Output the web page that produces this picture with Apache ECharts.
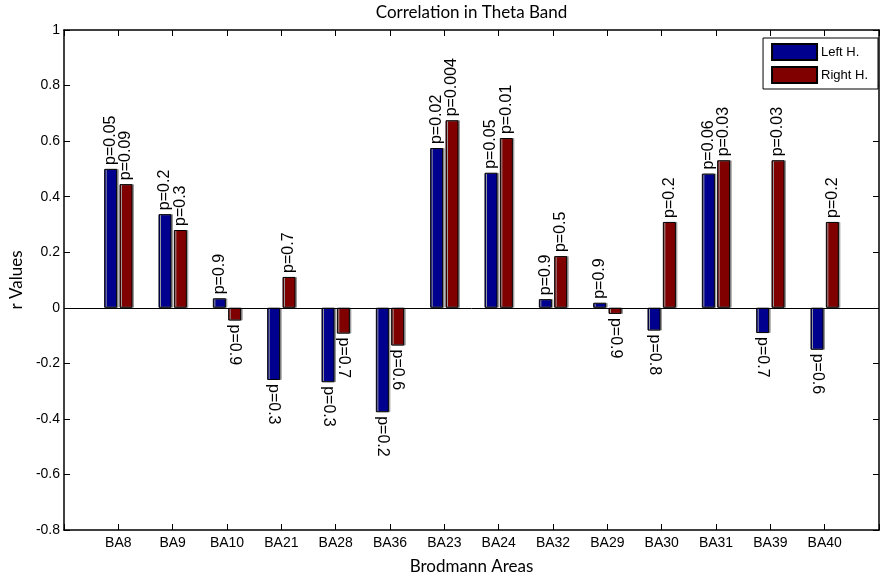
<!DOCTYPE html>
<html>
<head>
<meta charset="utf-8">
<script src="https://cdn.jsdelivr.net/npm/echarts@6/dist/echarts.min.js"></script>
<style>
  html, body { margin: 0; padding: 0; background: #fff; }
  #main { width: 880px; height: 578px; }
</style>
</head>
<body>
<div id="main"></div>
<script>
// Brodmann areas along the x axis
const areas = ['BA8', 'BA9', 'BA10', 'BA21', 'BA28', 'BA36', 'BA23', 'BA24', 'BA32', 'BA29', 'BA30', 'BA31', 'BA39', 'BA40'];

// r values
const leftValues = [0.50, 0.337, 0.034, -0.26, -0.268, -0.376, 0.575, 0.486, 0.031, 0.018, -0.082, 0.483, -0.091, -0.151];
const rightValues = [0.445, 0.28, -0.046, 0.111, -0.093, -0.136, 0.675, 0.611, 0.186, -0.022, 0.309, 0.531, 0.531, 0.309];

// p values written next to each bar
const leftP = ['p=0.05', 'p=0.2', 'p=0.9', 'p=0.3', 'p=0.3', 'p=0.2', 'p=0.02', 'p=0.05', 'p=0.9', 'p=0.9', 'p=0.8', 'p=0.06', 'p=0.7', 'p=0.6'];
const rightP = ['p=0.09', 'p=0.3', 'p=0.9', 'p=0.7', 'p=0.7', 'p=0.6', 'p=0.004', 'p=0.01', 'p=0.5', 'p=0.9', 'p=0.2', 'p=0.03', 'p=0.03', 'p=0.2'];

const yTicks = [-0.8, -0.6, -0.4, -0.2, 0, 0.2, 0.4, 0.6, 0.8, 1];

var chartDom = document.getElementById('main');
var myChart = echarts.init(chartDom);

const labelFont = 'Liberation Sans, Arial, sans-serif';
const titleFont = 'Lato, Open Sans, sans-serif';

function barData(values, pvals) {
  return values.map((v, i) => ({
    value: [i + 1, v],
    label: {
      show: true,
      formatter: pvals[i],
      position: v >= 0 ? 'top' : 'bottom',
      rotate: v >= 0 ? 90 : -90,
      align: 'left',
      verticalAlign: 'middle',
      distance: 4,
      color: '#000',
      fontFamily: labelFont,
      fontSize: 16
    }
  }));
}

const tickStyle = { show: true, inside: true, length: 6, lineStyle: { color: '#000', width: 1 } };
const lineStyle = { show: true, onZero: false, lineStyle: { color: '#000', width: 1.5 } };

var option = {
  animation: false,
  backgroundColor: '#fff',
  grid: { left: 64, top: 30, right: 1, bottom: 48, containLabel: false, outerBoundsMode: 'none' },
  legend: {
    data: ['Left H.', 'Right H.'],
    orient: 'vertical',
    right: 2,
    top: 38,
    itemWidth: 45,
    itemHeight: 16,
    itemGap: 5,
    padding: [5, 10, 5, 8],
    borderColor: '#000',
    borderWidth: 1,
    backgroundColor: '#fff',
    icon: 'rect',
    textStyle: { fontFamily: labelFont, fontSize: 13, color: '#000', padding: [0, 0, 0, -1] }
  },
  xAxis: [
    {
      type: 'value',
      position: 'bottom',
      min: 0,
      max: areas.length + 1,
      interval: 1,
      name: 'Brodmann Areas',
      nameLocation: 'middle',
      nameGap: 28,
      nameTextStyle: { fontFamily: titleFont, fontSize: 17, color: '#000' },
      axisLine: lineStyle,
      axisTick: tickStyle,
      splitLine: { show: false },
      axisLabel: {
        margin: 6,
        fontFamily: labelFont,
        fontSize: 14,
        color: '#000',
        formatter: v => areas[v - 1] || ''
      }
    },
    {
      type: 'value',
      position: 'top',
      min: 0,
      max: areas.length + 1,
      interval: 1,
      name: 'Correlation in Theta Band',
      nameLocation: 'middle',
      nameGap: 9,
      nameTextStyle: { fontFamily: titleFont, fontSize: 17, color: '#000' },
      axisLine: lineStyle,
      axisTick: tickStyle,
      splitLine: { show: false },
      axisLabel: { show: false }
    }
  ],
  yAxis: [
    {
      type: 'value',
      position: 'left',
      min: yTicks[0],
      max: yTicks[yTicks.length - 1],
      interval: 0.2,
      name: 'r Values',
      nameLocation: 'middle',
      nameGap: 32,
      nameTextStyle: { fontFamily: titleFont, fontSize: 17, color: '#000' },
      axisLine: lineStyle,
      axisTick: tickStyle,
      splitLine: { show: false },
      axisLabel: {
        margin: 4,
        fontFamily: labelFont,
        fontSize: 14,
        color: '#000',
        formatter: v => String(Math.round(v * 10) / 10)
      }
    },
    {
      type: 'value',
      position: 'right',
      min: yTicks[0],
      max: yTicks[yTicks.length - 1],
      interval: 0.2,
      axisLine: lineStyle,
      axisTick: tickStyle,
      splitLine: { show: false },
      axisLabel: { show: false }
    }
  ],
  series: [
    {
      name: 'Left H.',
      type: 'bar',
      xAxisIndex: 0,
      yAxisIndex: 0,
      barWidth: 13,
      barGap: '18%',
      itemStyle: { color: '#00008f', borderColor: '#000', borderWidth: 1, shadowColor: '#999', shadowOffsetX: 1.5 },
      data: barData(leftValues, leftP),
      markLine: {
        silent: true,
        symbol: 'none',
        label: { show: false },
        lineStyle: { color: '#000', width: 1, type: 'solid' },
        data: [{ yAxis: 0 }]
      }
    },
    {
      name: 'Right H.',
      type: 'bar',
      xAxisIndex: 0,
      yAxisIndex: 0,
      barWidth: 13,
      barGap: '18%',
      itemStyle: { color: '#800000', borderColor: '#000', borderWidth: 1, shadowColor: '#999', shadowOffsetX: 1.5 },
      data: barData(rightValues, rightP)
    }
  ]
};

option && myChart.setOption(option);
</script>
</body>
</html>
